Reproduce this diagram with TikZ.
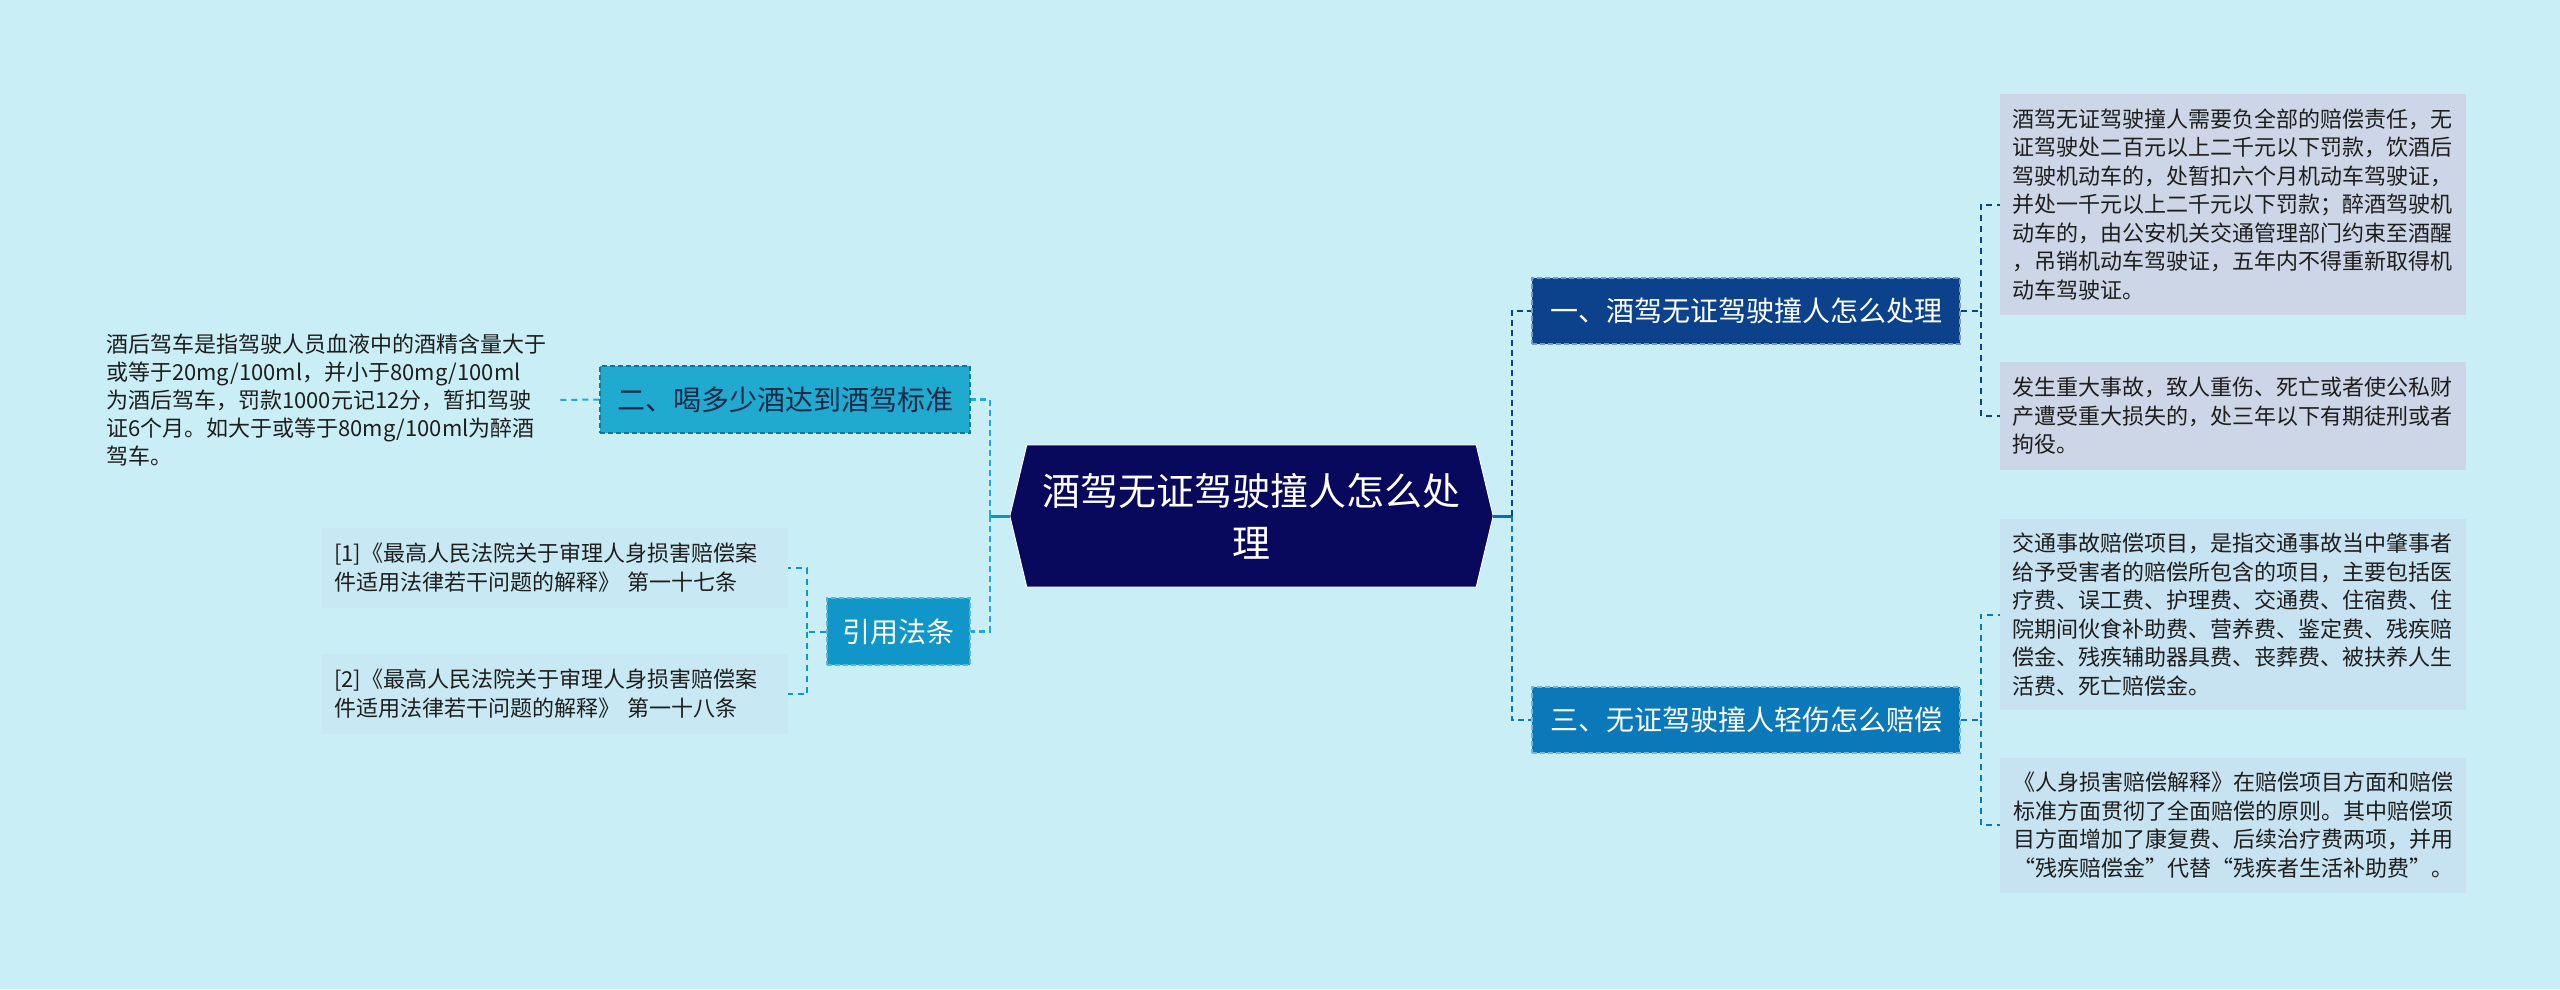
\documentclass[tikz,border=0pt]{standalone}
\usepackage{fontspec}
\setmainfont{Noto Sans CJK SC}
\usetikzlibrary{calc}
\pgfdeclarelayer{bottom}
\pgfdeclarelayer{back}
\pgfsetlayers{bottom,back,main}
\definecolor{bgc}{RGB}{201,238,246}
\definecolor{rootc}{RGB}{8,8,92}
\definecolor{c1}{RGB}{12,66,140}
\definecolor{c3}{RGB}{10,120,185}
\definecolor{c2}{RGB}{32,170,208}
\definecolor{c4}{RGB}{16,150,200}
\definecolor{t2}{RGB}{22,40,70}
\definecolor{leafA}{RGB}{205,214,230}
\definecolor{leafB}{RGB}{199,226,240}
\definecolor{leafR}{RGB}{200,233,243}
\definecolor{ltext}{RGB}{30,30,30}
\tikzset{
  dl/.style={dash pattern=on 6pt off 4pt, line width=2.5pt},
  dlt/.style={dash pattern=on 6pt off 5pt, line width=2pt},
  branch/.style={inner sep=0pt, minimum height=66pt, font=\fontsize{28}{34}\selectfont,
     dash pattern=on 5pt off 3pt, line width=1.5pt},
  leaf/.style={inner sep=0pt, minimum width=466pt, text width=442pt, align=left,
     font=\fontsize{22}{28.5}\selectfont, text=ltext},
}
\begin{document}
\begin{tikzpicture}[x=1pt,y=-1pt]
\useasboundingbox (0,0) rectangle (2560,989);
\begin{pgfonlayer}{bottom}
\fill[bgc] (0,0) rectangle (2560,989);
\end{pgfonlayer}

% root
\node[inner sep=0pt, minimum width=483pt, minimum height=142pt, align=center, text=white,
      font=\fontsize{38}{52}\selectfont] (root) at (1251.5,516) {酒驾无证驾驶撞人怎么处\\理};
\begin{pgfonlayer}{back}
\draw[fill=rootc, draw=white, line width=1pt] (root.west) -- ($(root.north west)+(17,0)$)
  -- ($(root.north east)+(-17,0)$) -- (root.east) -- ($(root.south east)+(-17,0)$)
  -- ($(root.south west)+(17,0)$) -- cycle;
\end{pgfonlayer}

% branches
\node[branch, minimum width=428pt, fill=c1, draw=c1!55!white, text=white] (n1) at (1746,311) {一、酒驾无证驾驶撞人怎么处理};
\node[branch, minimum width=428pt, fill=c3, draw=c3!55!white, text=white] (n3) at (1746,720) {三、无证驾驶撞人轻伤怎么赔偿};
\node[branch, minimum width=370pt, minimum height=67pt, fill=c2, draw=c2!70!black, text=t2] (n2) at (785,399.5) {二、喝多少酒达到酒驾标准};
\node[branch, minimum width=143pt, minimum height=67pt, fill=c4, draw=c4!70!white, text=white] (n4) at (898.5,631.5) {引用法条};

% right leaves
\node[leaf, fill=leafA, minimum height=221pt] (b1) at (2233,204.5) {酒驾无证驾驶撞人需要负全部的赔偿责任，无\\证驾驶处二百元以上二千元以下罚款，饮酒后\\驾驶机动车的，处暂扣六个月机动车驾驶证，\\并处一千元以上二千元以下罚款；醉酒驾驶机\\动车的，由公安机关交通管理部门约束至酒醒\\，吊销机动车驾驶证，五年内不得重新取得机\\动车驾驶证。};
\node[leaf, fill=leafA, minimum height=108pt] (b2) at (2233,416) {发生重大事故，致人重伤、死亡或者使公私财\\产遭受重大损失的，处三年以下有期徒刑或者\\拘役。};
\node[leaf, fill=leafB, minimum height=191pt] (b3) at (2233,614.5) {交通事故赔偿项目，是指交通事故当中肇事者\\给予受害者的赔偿所包含的项目，主要包括医\\疗费、误工费、护理费、交通费、住宿费、住\\院期间伙食补助费、营养费、鉴定费、残疾赔\\偿金、残疾辅助器具费、丧葬费、被扶养人生\\活费、死亡赔偿金。};
\node[leaf, fill=leafB, minimum height=135pt, align=center] (b4) at (2233,825) {《人身损害赔偿解释》在赔偿项目方面和赔偿\\标准方面贯彻了全面赔偿的原则。其中赔偿项\\目方面增加了康复费、后续治疗费两项，并用\\“残疾赔偿金”代替“残疾者生活补助费”。};

% left leaves
\node[inner sep=0pt, anchor=west, text width=452pt, align=left, text=ltext,
      font=\fontsize{22}{27.8}\selectfont] (lt) at (106,400) {酒后驾车是指驾驶人员血液中的酒精含量大于\\或等于20mg/100ml，并小于80mg/100ml\\为酒后驾车，罚款1000元记12分，暂扣驾驶\\证6个月。如大于或等于80mg/100ml为醉酒\\驾车。};
\node[leaf, fill=leafR, minimum height=80pt, font=\fontsize{22}{29}\selectfont] (r1) at (555,568) {[1]《最高人民法院关于审理人身损害赔偿案\\件适用法律若干问题的解释》 第一十七条};
\node[leaf, fill=leafR, minimum height=80pt, font=\fontsize{22}{29}\selectfont] (r2) at (555,694) {[2]《最高人民法院关于审理人身损害赔偿案\\件适用法律若干问题的解释》 第一十八条};

% connectors right
\coordinate (rs) at ($(root.east)+(19,0)$);
\draw[c3!80!c1, line width=3pt] (root.east) -- (rs);
\draw[dl, c1] (rs) |- (n1.west);
\draw[dl, c3] (rs) |- (n3.west);
\coordinate (q1) at ($(n1.east)+(20,0)$);
\draw[dlt, c1] (n1.east) -- (q1) |- (b1.west);
\draw[dlt, c1] (q1) |- (b2.west);
\coordinate (q3) at ($(n3.east)+(20,0)$);
\draw[dlt, c3] (n3.east) -- (q3) |- (b3.west);
\draw[dlt, c3] (q3) |- (b4.west);

% connectors left
\coordinate (ls) at ($(root.west)+(-20,0)$);
\draw[c2!85!black, line width=3pt] (root.west) -- (ls);
\draw[dl, c2] (ls) |- (n2.east);
\draw[dl, c2] (ls) |- (n4.east);
\draw[dlt, c2] (n2.west) -- (lt.east);
\coordinate (q4) at ($(n4.west)+(-19,0)$);
\draw[dlt, c4] (n4.west) -- (q4) |- (r1.east);
\draw[dlt, c4] (q4) |- (r2.east);
\end{tikzpicture}
\end{document}
